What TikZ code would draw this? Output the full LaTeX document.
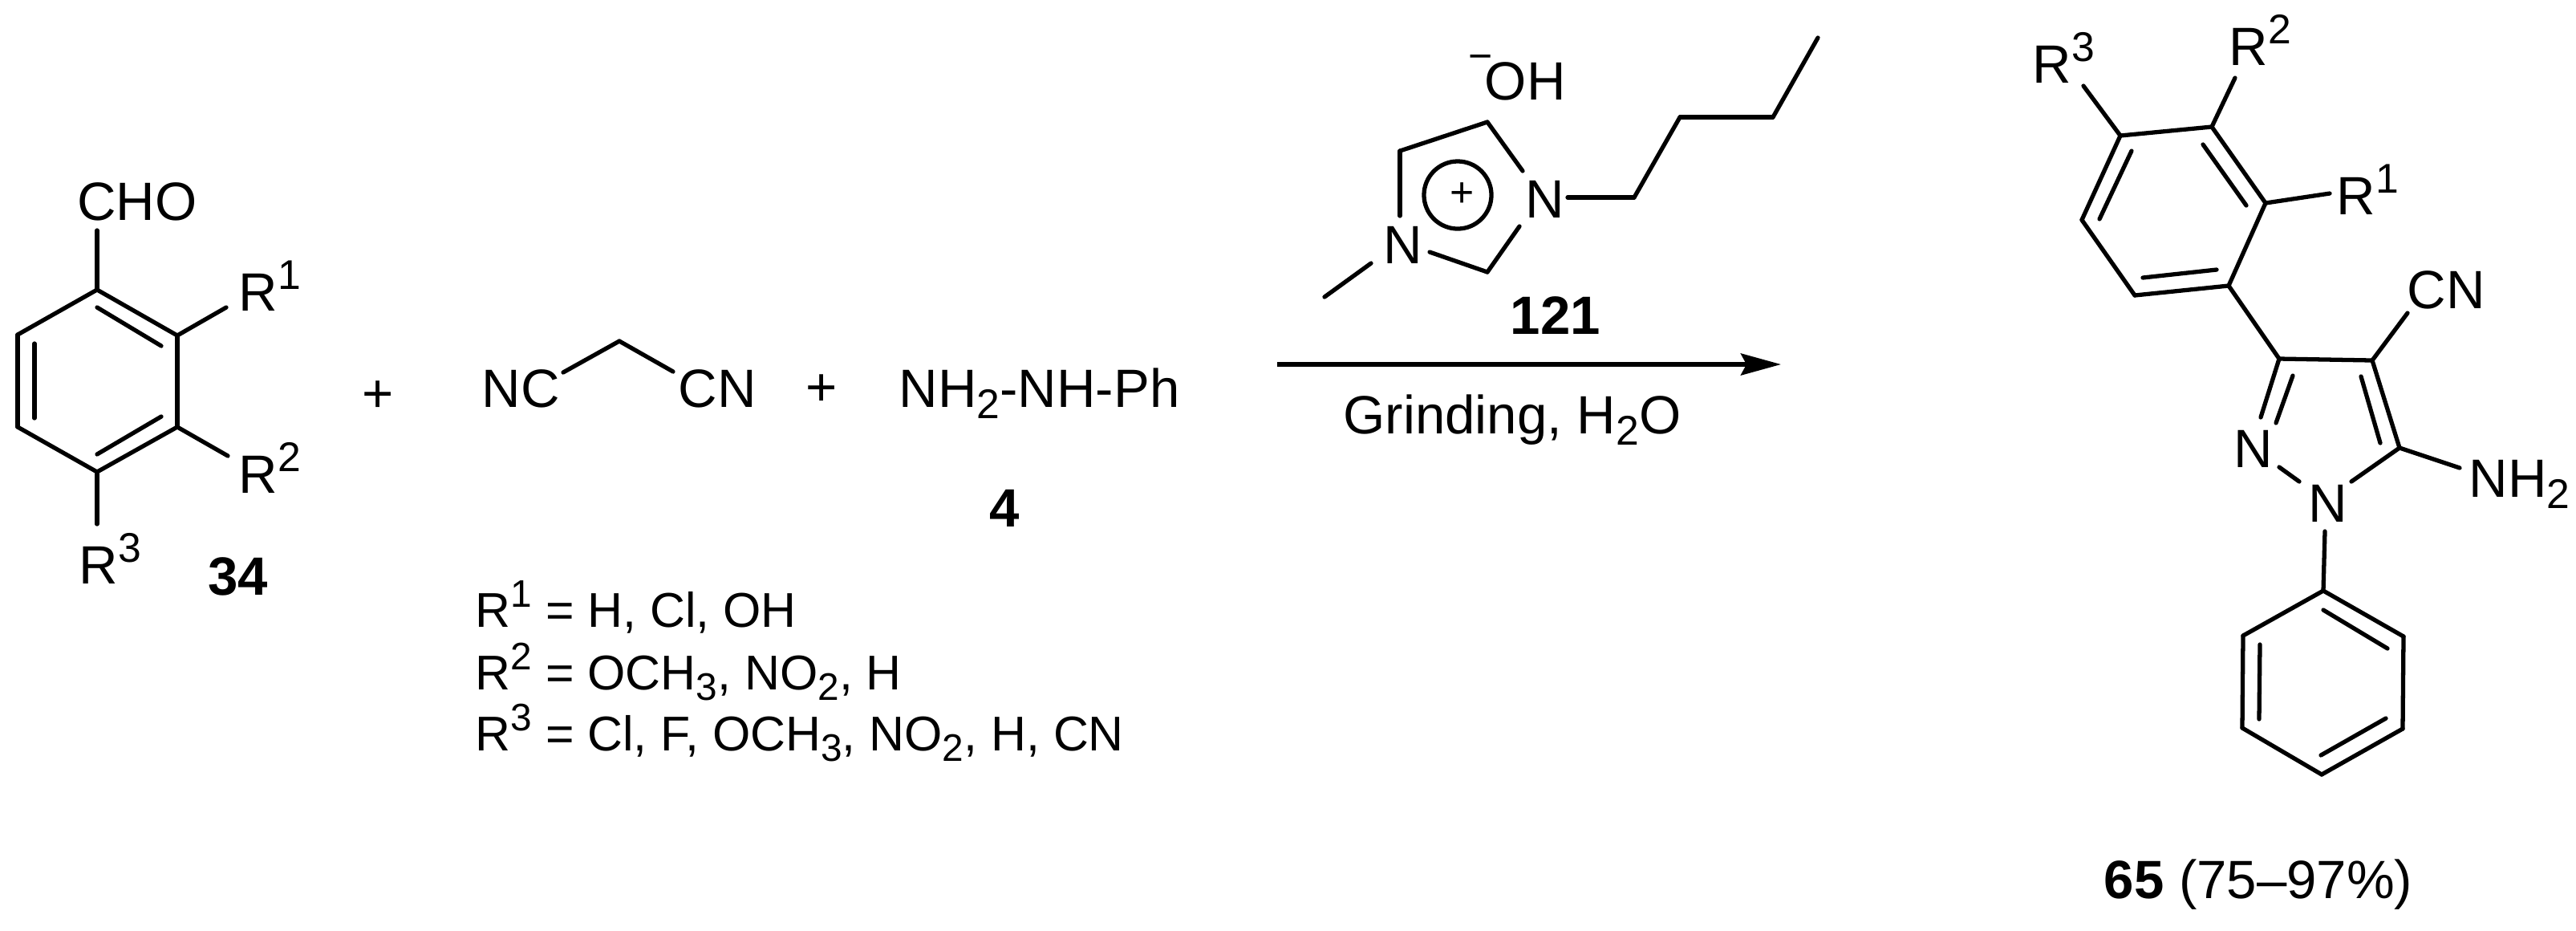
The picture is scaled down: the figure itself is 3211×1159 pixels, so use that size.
\documentclass[tikz,border=0pt]{standalone}
\usepackage{fontspec}
\setmainfont{Liberation Sans}
\usetikzlibrary{arrows.meta}
\newcommand{\scriptsz}{14.7}
\newcommand{\sups}[1]{\raisebox{0.4em}{\fontsize{\scriptsz}{16}\selectfont #1}}
\newcommand{\subs}[1]{\raisebox{-0.22em}{\fontsize{\scriptsz}{16}\selectfont #1}}
\tikzset{
    bond/.style={line width=1.5pt, line cap=round, line join=round},
    txt/.style={inner sep=0pt, anchor=base west, font=\fontsize{19.1}{22}\selectfont},
    ctxt/.style={txt, anchor=base},
    deftxt/.style={txt, font=\fontsize{17.3}{21}\selectfont\renewcommand{\scriptsz}{13.6}},
}

\begin{document}
\begin{tikzpicture}[x=0.01cm, y=-0.01cm]
        \useasboundingbox (0,0) rectangle (3211,1159);
        % aldehyde
        \foreach \nm/\px/\py in {a1/121/361, a2/221/418, a3/221/532, a4/121/588, a5/22/532, a6/22/417,
                a7/121/383, a8/201/431, a9/121/566, a10/201/519, a11/43/428, a12/43/521,
                ach/121/287, ar1/282/383, ar2/284/568, ar3/121/653,
                m1/702/464, m2/772/425, m3/839/463} {
            \coordinate (\nm) at (\px,\py);
        }
        \foreach \p/\q in {a1/a2, a2/a3, a3/a4, a4/a5, a5/a6, a6/a1, a7/a8, a9/a10, a11/a12,
                a1/ach, a2/ar1, a3/ar2, a4/ar3, m1/m2, m2/m3} {
            \draw[bond] (\p) -- (\q);
        }
        \node[ctxt] (cho) at (171,274) {CHO};
        \node[txt] (rone) at (297,387) {R\sups{1}};
        \node[txt] (rtwo) at (297,614) {R\sups{2}};
        \node[txt] (rthree) at (98,727) {R\sups{3}};
        \node[ctxt] (lab34) at (297,741) {\bfseries 34};
        \node[ctxt] (plusa) at (471,513) {+};
        \node[txt] (nc) at (600,507) {NC};
        \node[txt] (cn) at (845,507) {CN};
        \node[ctxt] (plusb) at (1024,505) {+};
        \node[txt] (hyd) at (1120,507) {NH\subs{2}-NH-Ph};
        \node[ctxt] (lab4) at (1252,656) {\bfseries 4};
        \node[deftxt] (defa) at (592,781) {R\sups{1} = H, Cl, OH};
        \node[deftxt] (defb) at (592,859) {R\sups{2} = OCH\subs{3}, NO\subs{2}, H};
        \node[deftxt] (defc) at (592,935) {R\sups{3} = Cl, F, OCH\subs{3}, NO\subs{2}, H, CN};
        % catalyst
        \foreach \nm/\px/\py in {i1/1854/152, i2/1745/188, i3/1745/269, i4/1898/213, i5/1894/282, i6/1854/339,
                i7/1782/314, i8/1709/328, i9/1651/370, b1/1954/246, b2/2037/246, b3/2094/146, b4/2210/146,
                b5/2266/47, arrs/1592/454, arre/2220/454} {
            \coordinate (\nm) at (\px,\py);
        }
        \foreach \p/\q in {i2/i1, i2/i3, i1/i4, i5/i6, i6/i7, i8/i9, b1/b2, b2/b3, b3/b4, b4/b5} {
            \draw[bond] (\p) -- (\q);
        }
        \node[circle, draw, line width=1.5pt, minimum size=0.84cm, inner sep=0pt] (ring) at (1817,243) {};
        \node[inner sep=0pt, font=\fontsize{14.7}{16}\selectfont] (chg) at (1823,243) {+};
        \node[txt] (oh) at (1830,124) {\raisebox{0.55em}{\fontsize{14.7}{16}\selectfont −}\kern-0.1cm OH};
        \node[txt] (nr) at (1901,271) {N};
        \node[txt] (nl) at (1724,328) {N};
        \node[ctxt] (lab121) at (1939,416) {\bfseries 121};
        \draw[line width=1.5pt, -{Stealth[length=0.5cm, width=0.27cm, inset=0.07cm]}] (arrs) -- (arre);
        \node[ctxt] (cond) at (1885,540) {Grinding, H\subs{2}O};
        % product
        \foreach \nm/\px/\py in {p1/2757/158, p2/2824/253, p3/2778/356, p4/2661/368, p5/2595/274, p6/2643/169,
                p7/2746/180, p8/2800/256, p9/2763/336, p10/2671/346, p11/2617/273, p12/2657/188,
                pr2/2786/97, pr3/2597/107, pr1/2904/241,
                z1/2841/447, z2/2957/449, z3/2991/558, z4/3001/390, z5/2818/520, z6/2858/468, z7/2837/527,
                z8/2943/469, z9/2967/552, z10/2841/582, z11/2866/600, z12/2931/600, z13/3066/583,
                z14/2898/662,
                f1/2896/736, f2/2996/793, f3/2995/908, f4/2894/965, f5/2795/907, f6/2796/792,
                f7/2896/760, f8/2976/808, f9/2974/895, f10/2893/941, f11/2817/803, f12/2816/896} {
            \coordinate (\nm) at (\px,\py);
        }
        \foreach \p/\q in {p1/p2, p2/p3, p3/p4, p4/p5, p5/p6, p6/p1, p7/p8, p9/p10, p11/p12,
                p1/pr2, p6/pr3, p2/pr1, p3/z1, z1/z2, z2/z3, z2/z4, z1/z5, z6/z7, z8/z9,
                z10/z11, z3/z12, z3/z13, z14/f1,
                f1/f2, f2/f3, f3/f4, f4/f5, f5/f6, f6/f1, f7/f8, f9/f10, f11/f12} {
            \draw[bond] (\p) -- (\q);
        }
        \node[txt] (ptwo) at (2778,81) {R\sups{2}};
        \node[txt] (pthree) at (2533,103) {R\sups{3}};
        \node[txt] (pone) at (2912,267) {R\sups{1}};
        \node[txt] (pcn) at (3000,384) {CN};
        \node[txt] (ntwo) at (2784,582) {N};
        \node[txt] (none) at (2877,650) {N};
        \node[txt] (nhtwo) at (3077,619) {NH\subs{2}};
        \node[ctxt] (lab65) at (2815,1119) {{\bfseries 65} (75–97\%)};
    \end{tikzpicture}
\end{document}
